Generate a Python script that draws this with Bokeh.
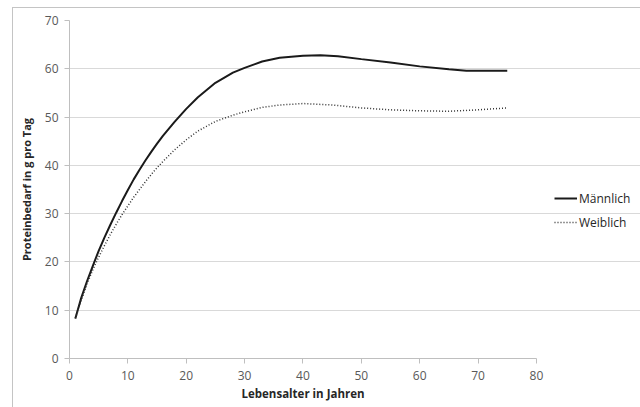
from bokeh.plotting import figure
from bokeh.models import Legend, LegendItem, Range1d, FixedTicker, Title
from bokeh.embed import file_html
from bokeh.resources import INLINE

# Data
age_m = [1, 2, 3, 4, 5, 6, 7, 8, 9, 10, 11, 12, 13, 14, 15, 16, 18, 20, 22, 25, 28, 30, 33, 36, 40, 43, 46, 50, 55, 60, 65, 68, 72, 75]
protein_m = [8.3, 12.5, 16.0, 19.2, 22.3, 25.1, 27.7, 30.2, 32.6, 34.9, 37.1, 39.1, 41.0, 42.8, 44.5, 46.1, 49.0, 51.7,
             54.1, 57.1, 59.2, 60.2, 61.5, 62.3, 62.7, 62.8, 62.6, 62.0, 61.3, 60.5, 59.9, 59.6, 59.6, 59.6]

age_w = [1, 2, 3, 4, 5, 6, 7, 8, 9, 10, 11, 12, 13, 14, 15, 16, 18, 20, 22, 25, 28, 30, 33, 36, 40, 45, 50, 55, 60, 65, 70, 75]
protein_w = [8.3, 12.0, 15.4, 18.4, 21.0, 23.4, 25.7, 27.8, 29.8, 31.6, 33.4, 35.0, 36.6, 38.1, 39.5, 40.8, 43.2, 45.3,
             47.1, 49.1, 50.4, 51.1, 52.0, 52.5, 52.8, 52.5, 51.9, 51.5, 51.3, 51.2, 51.5, 51.9]

x_ticks = [0, 10, 20, 30, 40, 50, 60, 70, 80]
y_ticks = [0, 10, 20, 30, 40, 50, 60, 70]
x_axis_max = 80
y_axis_max = 70

series_names = ["Männlich", "Weiblich"]
x_label = "Lebensalter in Jahren"
y_label = "Proteinbedarf in g pro Tag"

FONT = "Open Sans"
GRID = "#d9d9d9"
AXIS = "#bfbfbf"
TICKTXT = "#595959"
BORDER = "#c4c4c4"

# frame extends to the right edge so the legend (drawn in the frame) is not clipped;
# the axis and grid are bounded to 0..80 like the reference
p = figure(width=628, height=400, output_backend="svg", toolbar_location=None,
           x_range=Range1d(0, 98), y_range=Range1d(0, y_axis_max),
           min_border_left=56, min_border_right=0, min_border_top=12, min_border_bottom=50)
p.styles = {"margin-left": "12px", "margin-top": "7px",
            "border-left": f"1px solid {BORDER}", "border-top": f"1px solid {BORDER}"}
p.outline_line_color = None
p.background_fill_color = "white"
p.border_fill_color = "white"

p.xgrid.grid_line_color = None
p.ygrid.grid_line_color = GRID
p.ygrid.grid_line_width = 1
p.ygrid.bounds = (0, x_axis_max)

p.xaxis.ticker = FixedTicker(ticks=x_ticks)
p.yaxis.ticker = FixedTicker(ticks=y_ticks)
p.xaxis.bounds = (0, x_axis_max)
for ax in (p.xaxis, p.yaxis):
    ax.axis_line_color = AXIS
    ax.major_tick_line_color = AXIS
    ax.major_tick_out = 5
    ax.major_tick_in = 0
    ax.minor_tick_line_color = None
    ax.major_label_text_font = FONT
    ax.major_label_text_font_size = "12px"
    ax.major_label_text_color = TICKTXT
    ax.axis_label_text_font = FONT
    ax.axis_label_text_font_size = "11px"
    ax.axis_label_text_font_style = "bold"
    ax.axis_label_text_color = "#262626"

p.yaxis.axis_label = y_label
p.xaxis.major_label_standoff = 7
p.yaxis.major_label_standoff = 6
p.yaxis.axis_label_standoff = 8

xt = Title(text=x_label, align="left", offset=172, standoff=2,
           text_font=FONT, text_font_size="11.5px", text_font_style="bold", text_color="#262626")
p.add_layout(xt, "below")

r_m = p.line(age_m, protein_m, line_color="#1a1a1a", line_width=2)
r_w = p.line(age_w, protein_w, line_color="#333333", line_width=1.5, line_dash="1 2")

legend = Legend(items=[LegendItem(label=series_names[0], renderers=[r_m]),
                       LegendItem(label=series_names[1], renderers=[r_w])],
                location=(485, 126), orientation="vertical",
                label_text_font=FONT, label_text_font_size="12px", label_text_color="#262626",
                glyph_width=23, glyph_height=20, label_height=20, label_standoff=2,
                spacing=4, padding=0, margin=0,
                border_line_color=None, background_fill_alpha=0)
p.add_layout(legend, "center")

open("out.html", "w").write(file_html(p, INLINE))
